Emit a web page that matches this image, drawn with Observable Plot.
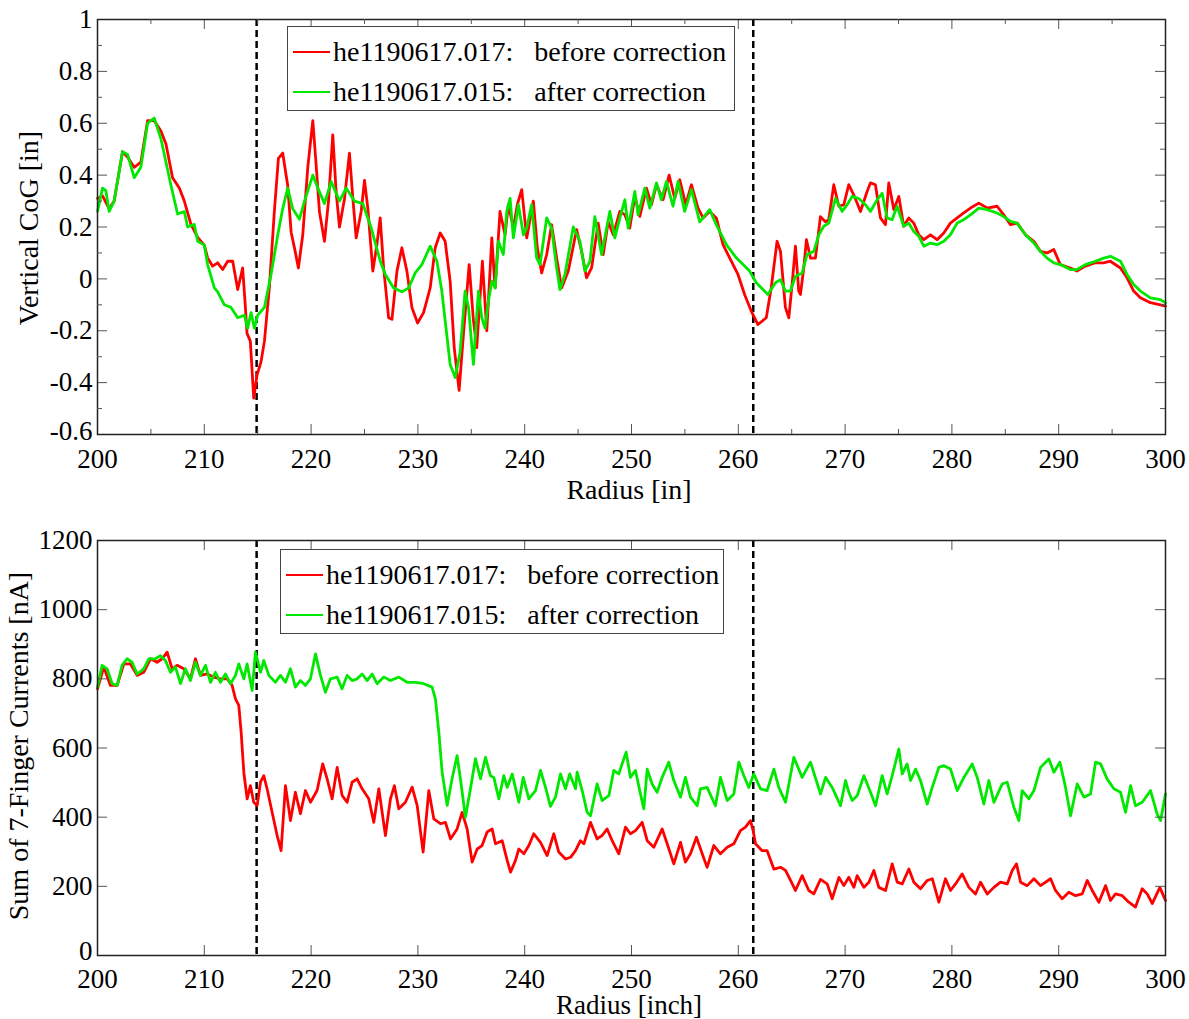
<!DOCTYPE html>
<html><head><meta charset="utf-8">
<script src="https://cdn.jsdelivr.net/npm/d3@7"></script>
<script src="https://cdn.jsdelivr.net/npm/@observablehq/plot@0.6"></script>
<style>
body{margin:0;background:#fff;font-family:'Liberation Serif','DejaVu Serif',serif;}
#wrap{position:relative;width:1189px;height:1019px;overflow:hidden;background:#fff;font-family:'Liberation Serif','DejaVu Serif',serif}
#wrap svg, #wrap svg text{font-family:'Liberation Serif','DejaVu Serif',serif !important}
.pl{position:absolute;left:0}
.lab{position:absolute;font-size:28px;white-space:nowrap;color:#000;line-height:0.75}
.lab.small{font-size:27px}
.ylab{transform:translate(-50%,-50%) rotate(-90deg)}
.xlab{transform:translate(-50%,-50%)}
.legend{position:absolute;border:1.5px solid #444;background:#fff;font-size:28px;color:#000;box-sizing:border-box}
.legend .row{position:absolute;left:0;white-space:pre;line-height:1}
.legend .sw{position:absolute;left:5px;width:37px;height:2.5px}
.legend .tx{position:absolute;left:45px;transform:translateY(-50%)}
</style></head>
<body><div id="wrap"></div>
<script>
// ---------- data ----------
const seriesNames = ["he1190617.017:   before correction", "he1190617.015:   after correction"];
const seriesColors = ["#ff0000", "#00e800"];
const dashRadius = [214.9, 261.4];

// Vertical CoG [in] vs radius [in]
const cogBefore = [[200.0,0.31],[200.47,0.32],[201.09,0.27],[201.56,0.30],[202.34,0.49],[202.81,0.47],[203.44,0.43],[204.06,0.45],[204.69,0.61],[205.31,0.61],[205.94,0.57],[206.41,0.52],[207.03,0.39],[207.66,0.35],[208.13,0.30],[208.75,0.21],[209.38,0.16],[210.0,0.13],[210.31,0.081],[210.78,0.049],[211.25,0.062],[211.72,0.036],[212.19,0.068],[212.66,0.068],[213.13,-0.041],[213.59,0.042],[213.81,-0.086],[214.0,-0.21],[214.31,-0.24],[214.63,-0.46],[214.94,-0.37],[215.31,-0.32],[215.63,-0.24],[216.09,-0.035],[216.56,0.26],[216.94,0.465],[217.34,0.485],[217.81,0.36],[218.13,0.18],[218.44,0.12],[218.81,0.042],[219.22,0.17],[219.69,0.43],[220.16,0.61],[220.47,0.44],[220.78,0.26],[221.25,0.145],[221.63,0.30],[222.03,0.555],[222.34,0.337],[222.66,0.20],[223.13,0.31],[223.59,0.485],[223.91,0.31],[224.22,0.158],[224.69,0.26],[225.0,0.38],[225.31,0.273],[225.78,0.03],[226.16,0.132],[226.47,0.235],
[226.79,0.042],[227.26,-0.15],[227.57,-0.156],[228.04,0.03],[228.5,0.12],[228.97,0.03],[229.44,-0.11],[229.97,-0.17],[230.53,-0.13],[231.15,-0.035],[231.62,0.12],[232.09,0.177],[232.55,0.145],[233.02,-0.009],[233.4,-0.265],[233.86,-0.43],[234.27,-0.21],[234.8,0.055],[235.2,-0.16],[235.51,-0.265],[236.04,0.068],[236.45,-0.2],[236.92,0.158],[237.23,-0.035],[237.69,0.26],[238.16,0.17],[238.47,0.286],[238.94,0.196],[239.31,0.286],[239.72,0.344],[240.19,0.158],[240.81,0.30],[241.18,0.12],[241.59,0.023],[242.06,0.094],[242.52,0.209],[242.99,0.081],[243.46,-0.035],[244.08,0.03],[244.86,0.19],[245.33,0.106],[245.79,0.004],[246.26,0.042],[246.88,0.215],[247.35,0.094],[247.82,0.22],[248.29,0.17],[248.91,0.26],[249.38,0.247],[249.84,0.196],[250.31,0.318],[250.78,0.241],[251.4,0.35],[251.87,0.286],[252.34,0.363],[252.96,0.305],[253.52,0.40],[254.05,0.31],[254.52,0.382],[255.08,0.286],[255.61,0.363],[256.23,0.273],[256.7,0.235],[257.32,0.26],[257.94,0.235],[258.57,0.132],[259.19,0.081],[259.97,0.017],[260.59,-0.06],[261.21,-0.124],[261.84,-0.176],[262.62,-0.15],[263.08,-0.035],
[263.63,0.145],[263.95,0.106],[264.41,-0.11],[264.73,-0.15],[265.04,-0.02],[265.35,0.126],[265.66,-0.047],[265.82,-0.06],[266.13,0.042],[266.38,0.151],[266.76,0.08],[267.22,0.08],[267.69,0.24],[268.16,0.22],[268.47,0.228],[268.94,0.363],[269.41,0.28],[269.88,0.286],[270.34,0.363],[270.81,0.324],[271.44,0.26],[272.06,0.337],[272.37,0.37],[272.84,0.363],[273.31,0.235],[273.78,0.209],[274.09,0.37],[274.56,0.267],[275.03,0.318],[275.49,0.203],[275.96,0.235],[276.43,0.215],[276.9,0.17],[277.37,0.151],[277.99,0.17],[278.62,0.151],[279.24,0.177],[279.86,0.215],[280.49,0.235],[281.11,0.254],[281.74,0.273],[282.52,0.292],[283.3,0.273],[284.23,0.28],[284.86,0.247],[285.48,0.209],[286.11,0.215],[286.89,0.17],[287.67,0.145],[288.29,0.106],[288.91,0.1],[289.54,0.113],[290.15,0.055],[291.09,0.042],[291.71,0.03],[292.5,0.049],[293.44,0.062],[294.21,0.062],[294.84,0.068],[295.78,0.042],[296.4,0.004],[297.02,-0.047],[297.65,-0.073],[298.59,-0.092],[299.52,-0.1],[300.0,-0.105]];

const cogAfter = [[200.0,0.26],[200.47,0.35],[200.78,0.34],[201.09,0.26],[201.56,0.30],[202.34,0.49],[202.81,0.48],[203.44,0.39],[204.06,0.43],[204.69,0.60],[205.31,0.62],[205.94,0.54],[206.88,0.36],[207.5,0.25],[208.13,0.26],[208.44,0.20],[209.06,0.21],[209.38,0.145],[210.0,0.13],[210.31,0.055],[210.94,-0.035],[211.25,-0.05],[211.88,-0.10],[212.5,-0.11],[213.13,-0.15],[213.75,-0.14],[214.06,-0.19],[214.38,-0.13],[214.69,-0.19],[215.0,-0.14],[215.63,-0.11],[216.25,0.017],[216.88,0.17],[217.34,0.27],[217.81,0.35],[218.28,0.27],[218.91,0.23],[219.38,0.30],[220.16,0.40],[220.63,0.35],[221.25,0.29],[221.88,0.375],[222.66,0.30],[223.28,0.35],[224.06,0.30],[224.84,0.29],[225.63,0.196],
[226.48,0.068],[226.95,0.017],[227.73,-0.035],[228.5,-0.05],[229.13,-0.035],[229.75,0.023],[230.37,0.055],[231.15,0.126],[231.78,0.068],[232.24,-0.047],[232.55,-0.16],[233.02,-0.33],[233.49,-0.38],[233.96,-0.28],[234.42,-0.047],[234.74,-0.11],[235.2,-0.33],[235.67,-0.047],[235.98,-0.15],[236.29,-0.19],[236.6,-0.086],[236.92,-0.009],[237.23,-0.035],[237.54,0.145],[238.0,0.094],[238.32,0.26],[238.63,0.31],[238.94,0.158],[239.41,0.286],[239.88,0.17],[240.19,0.196],[240.65,0.286],[241.12,0.081],[241.43,0.055],[242.06,0.235],[242.52,0.196],[242.99,0.042],[243.3,-0.041],[243.77,0.017],[244.55,0.20],[245.17,0.145],[245.64,0.03],[246.11,0.068],[246.57,0.24],[247.2,0.094],[247.97,0.26],[248.44,0.158],[248.91,0.235],[249.38,0.305],[249.69,0.196],[250.31,0.337],[250.62,0.247],[251.25,0.35],[251.71,0.273],[252.34,0.37],[252.8,0.305],[253.27,0.376],[253.89,0.28],[254.36,0.376],[254.98,0.26],[255.61,0.344],[256.39,0.22],[257.32,0.267],[257.94,0.209],[258.88,0.132],[259.81,0.081],[261.06,0.03],[261.68,-0.015],[262.77,-0.06],
[263.48,-0.015],[263.95,-0.003],[264.41,-0.047],[264.88,-0.047],[265.35,0.01],[265.98,0.023],[266.44,0.094],[267.07,0.106],[267.54,0.17],[268.0,0.203],[268.47,0.215],[269.1,0.31],[269.72,0.26],[270.19,0.286],[270.66,0.318],[271.28,0.31],[271.9,0.286],[272.37,0.26],[273.0,0.305],[273.47,0.33],[273.93,0.235],[274.4,0.228],[274.87,0.28],[275.49,0.203],[275.96,0.215],[276.43,0.183],[276.9,0.164],[277.37,0.126],[277.99,0.138],[278.62,0.132],[279.24,0.145],[279.86,0.17],[280.49,0.215],[281.11,0.228],[281.74,0.247],[282.52,0.273],[283.3,0.267],[284.23,0.254],[284.86,0.24],[285.48,0.222],[286.11,0.215],[286.89,0.17],[287.67,0.138],[288.29,0.106],[288.91,0.08],[289.54,0.062],[290.15,0.055],[291.09,0.036],[291.71,0.036],[292.5,0.055],[293.44,0.068],[294.21,0.08],[294.84,0.087],[295.78,0.068],[296.4,0.017],[297.02,-0.022],[297.65,-0.047],[298.59,-0.073],[299.52,-0.08],[300.0,-0.092]];

// Sum of 7-finger currents [nA] vs radius [inch]
const sumBefore = [[200,771],[200.59,834],[201.21,781],[201.84,781],[202.46,843],[203.09,843],[203.71,810],[204.33,819],[204.96,858],[205.58,848],[206.05,858],[206.52,877],[206.99,829],[207.45,839],[208.08,829],[208.7,800],[209.17,858],[209.64,810],[210.26,814],[210.89,805],[211.51,800],[212.14,800],[212.6,781],[212.92,742],[213.23,723],[213.45,646],[213.7,530],[214.01,453],[214.32,491],[214.63,443],[214.95,434],[215.26,501],[215.57,520],[215.88,482],[216.35,414],[216.82,347],[217.19,303],[217.6,491],[218.07,390],[218.53,472],[219.0,410],[219.47,477],[219.94,443],[220.56,477],[221.09,554],[221.5,511],[221.97,453],[222.44,544],[222.9,463],[223.37,443],[223.84,501],[224.31,511],[224.78,482],[225.4,453],[225.87,385],[226.34,482],[226.96,347],[227.43,453],[227.8,491],[228.21,424],[228.83,443],[229.46,487],[229.93,434],[230.49,299],[231.02,477],[231.49,395],[232.11,381],[232.58,385],[233.05,337],[233.67,366],[234.14,414],[234.61,366],[235.08,270],[235.55,308],[236.01,318],[236.48,357],
[236.95,366],[237.26,323],[237.89,332],[238.36,275],[238.67,241],[239.14,275],[239.45,308],[239.92,294],[240.39,318],[240.85,352],[241.48,327],[242.1,289],[242.73,352],[243.19,299],[243.82,279],[244.29,284],[244.76,303],[245.22,332],[245.54,323],[246.16,385],[246.78,337],[247.25,347],[247.72,366],[248.19,332],[248.81,294],[249.44,371],[249.9,352],[250.37,361],[251.0,385],[251.47,332],[252.09,313],[252.87,366],[253.34,323],[253.96,265],[254.59,327],[255.05,270],[255.52,294],[256.08,342],[256.62,294],[257.08,255],[257.71,318],[258.33,294],[258.96,313],[259.58,323],[260.2,361],[260.67,371],[261.14,390],[261.39,361],[261.61,323],[262.23,303],[262.7,303],[263.33,250],[263.95,255],[264.42,246],[264.89,217],[265.35,188],[265.98,231],[266.6,188],[267.07,178],[267.7,220],
[268.32,207],[268.79,164],[269.42,226],[269.88,202],[270.35,226],[270.82,197],[271.13,231],[271.76,197],[272.23,212],[272.69,246],[273.16,197],[273.79,188],[274.41,265],[274.88,212],[275.35,207],[275.97,250],[276.44,212],[277.06,193],[277.69,217],[278.16,222],[278.78,154],[279.4,222],[279.87,188],[280.34,207],[280.96,236],[281.59,197],[282.21,178],[282.68,212],[283.31,178],[283.93,197],[284.55,212],[285.18,207],[285.65,246],[286.05,265],[286.43,212],[287.05,202],[287.68,222],[288.3,202],[289.24,222],[289.7,188],[290.33,164],[290.95,183],[291.58,173],[292.2,178],[292.67,217],[293.14,188],[293.76,154],[294.39,202],[294.85,159],[295.32,178],[295.95,173],[296.57,154],[297.19,140],[297.82,193],[298.29,178],[298.76,150],[299.47,197],[300.0,159]];

const sumAfter = [[200,776],[200.43,839],[200.9,829],[201.37,786],[201.84,781],[202.3,839],[202.77,858],[203.24,848],[203.71,814],[204.33,829],[204.8,858],[205.43,858],[205.89,867],[206.36,853],[206.83,819],[207.3,834],[207.77,786],[208.23,829],[208.7,795],[209.17,848],[209.64,810],[210.11,839],[210.58,790],[211.04,819],[211.51,790],[211.98,814],[212.45,786],[212.92,810],[213.23,843],[213.7,800],[214.01,843],[214.48,766],[214.79,877],[215.26,819],[215.57,853],[216.04,810],[216.66,790],[217.13,810],[217.6,790],[218.07,829],[218.53,776],[219.0,795],[219.47,781],[219.94,800],[220.41,872],[220.88,810],[221.34,761],[221.81,800],[222.44,805],[222.9,771],[223.37,810],[223.84,795],[224.31,800],[224.78,814],[225.25,795],[225.71,814],[226.18,786],[226.81,805],[227.43,795],[228.21,805],[228.99,790],[229.77,790],[230.55,786],[231.33,776],[231.64,742],[231.96,646],[232.27,530],[232.74,434],[233.2,511],[233.67,578],[233.98,511],[234.45,400],[234.92,482],[235.39,569],[235.86,511],[236.33,573],[236.79,520],
[237.11,515],[237.58,453],[238.04,520],[238.36,486],[238.83,525],[239.45,443],[239.86,515],[240.39,453],[241.01,477],[241.48,535],[241.95,486],[242.41,431],[242.88,458],[243.35,525],[243.82,482],[244.22,525],[244.76,482],[244.91,530],[245.38,477],[245.85,414],[246.16,404],[246.78,496],[247.25,448],[247.88,462],[248.34,535],[248.81,525],[249.12,554],[249.5,588],[249.9,515],[250.37,535],[250.84,467],[251.15,424],[251.47,539],[251.93,496],[252.4,472],[252.87,515],[253.49,559],[253.96,506],[254.59,458],[255.05,515],[255.52,458],[256.15,433],[256.46,482],[257.08,486],[257.86,433],[258.33,515],[258.96,448],[259.58,467],[260.05,559],[260.52,520],[260.98,486],[261.45,525],[262.08,482],[262.7,477],[263.33,539],[263.79,486],[264.42,443],[265.2,573],[265.98,515],[266.76,559],[267.7,467],
[268.17,515],[268.79,486],[269.57,433],[270.04,506],[270.35,472],[270.67,448],[271.13,462],[271.76,520],[272.38,472],[272.85,433],[273.47,520],[273.94,467],[274.41,520],[275.03,597],[275.35,525],[275.81,554],[276.13,506],[276.6,539],[277.06,506],[277.69,438],[278.16,486],[278.78,544],[279.25,549],[279.87,539],[280.5,477],[281.12,515],[281.9,554],[282.37,515],[282.99,438],[283.46,506],[283.93,443],[284.71,496],[285.18,501],[285.8,429],[286.27,390],[286.58,477],[287.21,453],[287.68,477],[288.3,544],[289.08,568],[289.55,530],[290.11,559],[290.64,486],[291.11,404],[291.73,496],[292.36,458],[292.98,467],[293.45,559],[293.92,554],[294.54,510],[295.17,482],[295.79,472],[296.26,414],[296.73,491],[297.19,433],[297.82,443],[298.6,477],[299.22,409],[299.54,390],[300.0,467]];

const xMajorTicks = [200,210,220,230,240,250,260,270,280,290,300];
const xMinorTicks = [205,215,225,235,245,255,265,275,285,295];
const cogMajorTicks = [-0.6,-0.4,-0.2,0,0.2,0.4,0.6,0.8,1];
const cogMinorTicks = [-0.5,-0.3,-0.1,0.1,0.3,0.5,0.7,0.9];
const sumMajorTicks = [0,200,400,600,800,1000,1200];

// ---------- drawing ----------
const W = 1189, ML = 97, MR = 24;
const plotW = W - ML - MR;
const FONT = "'Liberation Serif','DejaVu Serif',serif";
const fmt = d => String(+d.toFixed(1));

function panel({before, after, yDomain, yMajor, yMinor, xMinor, height, marginTop, marginBottom, xPad, lowDy}) {
  const plotH = height - marginTop - marginBottom;
  const tickStyle = {stroke: "#555", strokeWidth: 1};
  const yLow = yMajor[0];
  const marks = [
    Plot.ruleX(dashRadius, {stroke: "#000", strokeWidth: 2.5, strokeDasharray: "7,4"}),
    Plot.line(before, {x: d => d[0], y: d => d[1], stroke: seriesColors[0], strokeWidth: 2.8, curve: "linear"}),
    Plot.line(after, {x: d => d[0], y: d => d[1], stroke: seriesColors[1], strokeWidth: 2.8, curve: "linear"}),
    Plot.tickX(xMajorTicks, {x: d => d, insetTop: plotH - 10, ...tickStyle}),
    Plot.tickX(xMajorTicks, {x: d => d, insetBottom: plotH - 10, ...tickStyle}),
    Plot.tickY(yMajor, {y: d => d, insetRight: plotW - 10, ...tickStyle}),
    Plot.tickY(yMajor, {y: d => d, insetLeft: plotW - 10, ...tickStyle}),
    Plot.frame({stroke: "#222", strokeWidth: 1.5}),
    Plot.axisX(xMajorTicks, {anchor: "bottom", tickSize: 0, tickPadding: xPad, tickFormat: d => String(d), label: null, fontSize: 27, fontFamily: FONT}),
    Plot.axisY(yMajor.slice(1), {anchor: "left", tickSize: 0, tickPadding: 5, tickFormat: fmt, label: null, fontSize: 27, fontFamily: FONT}),
    Plot.axisY([yLow], {anchor: "left", tickSize: 0, tickPadding: 5, tickFormat: fmt, label: null, fontSize: 27, fontFamily: FONT, dy: lowDy})
  ];
  if (xMinor) {
    marks.push(Plot.tickX(xMinor, {x: d => d, insetTop: plotH - 5, ...tickStyle}));
    marks.push(Plot.tickX(xMinor, {x: d => d, insetBottom: plotH - 5, ...tickStyle}));
  }
  if (yMinor) {
    marks.push(Plot.tickY(yMinor, {y: d => d, insetRight: plotW - 5, ...tickStyle}));
    marks.push(Plot.tickY(yMinor, {y: d => d, insetLeft: plotW - 5, ...tickStyle}));
  }
  return Plot.plot({
    width: W, height, marginLeft: ML, marginRight: MR, marginTop, marginBottom,
    style: {fontFamily: FONT, fontSize: "27px", background: "#fff", color: "#000"},
    x: {domain: [200, 300]},
    y: {domain: yDomain},
    marks
  });
}

const wrap = document.getElementById("wrap");
function place(el, top) { el.classList.add("pl"); el.style.top = top + "px"; wrap.appendChild(el); }

place(panel({before: cogBefore, after: cogAfter, yDomain: [-0.6, 1], yMajor: cogMajorTicks, yMinor: cogMinorTicks, xMinor: xMinorTicks, height: 510, marginTop: 19, marginBottom: 76, xPad: 14, lowDy: -3}), 0);
place(panel({before: sumBefore, after: sumAfter, yDomain: [0, 1200], yMajor: sumMajorTicks, yMinor: null, xMinor: null, height: 509, marginTop: 30, marginBottom: 64, xPad: 13, lowDy: -4}), 510);

function label(text, x, y, cls) {
  const d = document.createElement("div");
  d.className = "lab " + cls; d.textContent = text;
  d.style.left = x + "px"; d.style.top = y + "px";
  wrap.appendChild(d);
}
label("Vertical CoG [in]", 28, 228, "ylab");
label("Radius [in]", 629, 489, "xlab");
label("Sum of 7-Finger Currents [nA]", 18, 746, "ylab");
label("Radius [inch]", 629, 1005, "xlab small");

function legend(left, top, width, height) {
  const box = document.createElement("div");
  box.className = "legend";
  Object.assign(box.style, {left: left + "px", top: top + "px", width: width + "px", height: height + "px"});
  seriesNames.forEach((name, i) => {
    const cy = 25 + i * 40;
    const sw = document.createElement("div");
    sw.className = "sw"; sw.style.top = (cy - 1.5) + "px"; sw.style.background = seriesColors[i];
    const tx = document.createElement("div");
    tx.className = "row tx"; tx.style.top = cy + "px"; tx.textContent = name;
    box.appendChild(sw); box.appendChild(tx);
  });
  wrap.appendChild(box);
}
legend(287, 26, 448, 85);
legend(280, 549, 444, 85);
</script>
</body></html>
